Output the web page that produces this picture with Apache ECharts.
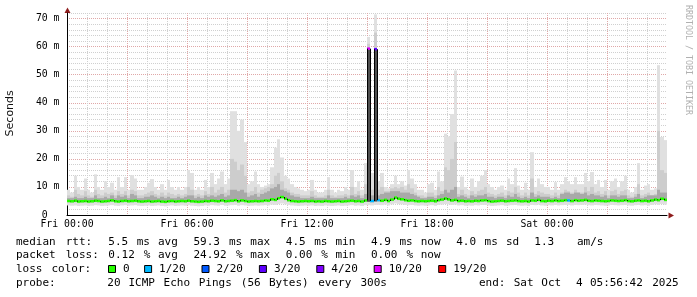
<!DOCTYPE html>
<html><head><meta charset="utf-8">
<script src="https://cdn.jsdelivr.net/npm/echarts@6/dist/echarts.min.js"></script>
<style>html,body{margin:0;padding:0;background:#fff}#c{width:697px;height:297px}</style>
</head><body><div id="c"></div>
<script>
// ---- data (10-minute bins, hours from Fri 00:00) ----
const BIN_H = 1 / 6;
const smokeMax = [
  9,8,14,10,9,13,9,8,14.5,10, 9,12,10,11.5,9,13.5,10,13.5,9,14.2, 13,9,9,10,11.5,12.8,10,9,11,9, 12.5,10,9,10,9,10,
  16,15,9,10,9,12.5,10,15,11,13, 15.5,11,13,37,37,30,34,26,11,12, 15.5,11,10,10.5,11,17,24,27,20.5,14, 13,11,10,9.5,9,8.5,
  9,12.5,9,8,8,9,13.5,9,8,9, 8.5,10,9,16,10,12,9,18.5,63.5,15, 71.5,12,15,10,9.5,11,14,11,12,10.5, 16,13,11,9,9,8,
  11,11.5,9,15.5,12,29,28,36,51.5,10, 13.7,10,9,13,10,12,14,16,11,10, 9,10,10.5,9,13,11,16.7,10.5,9,11.5, 9,22.4,10,13,11,10,
  10,9,11.7,9,11,13.5,12,11,13.5,11, 11,15,12,15.3,11,12.5,10,12.5,9,12, 13,10,12,14,9,8,10,18.5,9,10.5, 11,9,9.5,53.4,27.8,26.7
];
const smokeMid = [
  7,6.5,9,7.5,7,8.5,7,6.5,9,7.5, 7,8,7.5,8,7,8.5,7.5,8.5,7,9, 8.5,7,7,7.5,8,8.5,7.5,7,8,7, 8,7.5,7,7.5,7,7.5,
  10,9,7,7.5,7,8.5,7.5,10,8,9, 10,8,9,20,19,16,18,14,8,8.5, 10,8,9,9.5,10,11,14,15,12,9.5, 9,8,7.5,7.5,7,7,
  7,8.5,7,6.5,6.5,7,9,7,6.5,7, 7,7.5,7,10,7.5,8.5,7,11,61,9, 65,9,10,8.5,8.5,9.5,10,9.5,10,9, 11,9.5,8,7,7,6.5,
  8,8,7,10,8.5,17,16,20,26,7.5, 9,7.5,7,8.5,7.5,8.5,9,10,8,7.5, 7,7.5,8,7,8.5,8,10,8,7,8, 7,13,7.5,8.5,8,7.5,
  7.5,7,8,7,8,9,8.5,8,9,8, 8,10,8.5,10,8,8.5,7.5,8.5,7,8.5, 9,7.5,8.5,9,7,6.5,7.5,11,7,7.5, 8,7,7.5,30,16,15
];
const smokeDark = [
  6,6,6.5,6,6,6.5,6,6,7,6, 6,6.5,6,7,6,7,6.5,7,6,7.5, 7,6,6,6.5,6.5,7,6.5,6,6.5,6, 6.5,6,6,6.5,6,6.5,
  7,7,6,6.5,6,7,6.5,7,6.5,7, 7.5,6.5,7,9,9,8.5,9,8,6.5,7, 7.5,6.5,7.5,8,8.5,9.5,10,11,9,8.5, 8,7,6.5,6.5,6,6,
  6,6.5,6,6,6,6,7,6,6,6, 6,6.5,6,7,6.5,7,6,7.5,59,7, 59,7,7.5,8,8,8.5,8.5,8.5,8,8, 8,7.5,7,6.5,6,6,
  6.5,6.5,6,7,7.5,9,8,9,10,6.5, 7,6.5,6,7,6.5,7,7,7.5,6.5,6.5, 6,6.5,6.5,6,7,6.5,7.5,6.5,6,6.5, 6,8,6.5,7,6.5,6.5,
  6.5,6,6.5,6,7.5,8,8,7.5,8,8, 7.5,8,7,7.5,7,7,6.5,7,6,7, 7,6.5,7,7,6,6,6.5,7.5,6,6.5, 7,7,7,9,8,8
];
const smokeMin = [
  3.4,3.3,3.4,3.2,3.3,3.4,3.2,3.3,3.5,3.4, 3.2,3.3,3.4,3.5,3.3,3.2,3.4,3.5,3.3,3.4, 3.5,3.3,3.2,3.3,3.4,3.2,3.3,3.4,3.2,3.1, 3.3,3.4,3.2,3.3,3.4,3.3,
  3.5,3.3,3.2,3.1,3.2,3.4,3.3,3.5,3.4,3.3, 3.6,3.3,3.4,3.5,3.6,3.3,3.5,3.4,3.2,3.3, 3.4,3.3,3.4,3.5,3.4,3.7,3.6,3.9,4.1,3.8, 3.6,3.4,3.3,3.2,3.3,3.4,
  3.3,3.4,3.2,3.3,3.2,3.4,3.3,3.2,3.3,3.4, 3.2,3.3,3.4,3.5,3.3,3.4,3.2,3.5,3.5,3.4, 3.6,3.6,3.5,3.7,3.4,3.8,4.1,3.9,3.8,3.6, 3.5,3.6,3.4,3.3,3.4,3.3,
  3.4,3.5,3.3,3.6,3.7,3.9,3.8,3.6,3.7,3.4, 3.5,3.3,3.4,3.3,3.5,3.4,3.6,3.6,3.4,3.2, 3.3,3.4,3.5,3.3,3.4,3.5,3.6,3.4,3.3,3.4, 3.2,3.6,3.5,3.7,3.4,3.3,
  3.5,3.4,3.6,3.4,3.5,3.6,3.6,3.4,3.6,3.5, 3.6,3.7,3.5,3.4,3.6,3.5,3.4,3.3,3.4,3.6, 3.5,3.4,3.5,3.6,3.4,3.3,3.5,3.6,3.4,3.5, 3.3,3.6,3.8,3.6,3.9,3.7
];
const medianRtt = [
  5.0,4.9,5.1,4.8,4.9,5.0,4.8,4.9,5.1,5.0, 4.8,4.9,5.0,5.2,4.9,4.8,5.0,5.1,4.9,5.0, 5.1,4.9,4.8,4.9,5.0,4.8,4.9,5.0,4.8,4.7, 4.9,5.0,4.8,4.9,5.0,4.9,
  5.1,4.9,4.8,4.7,4.8,5.0,4.9,5.1,5.0,4.9, 5.2,4.9,5.0,5.1,5.3,4.9,5.2,5.0,4.8,4.9, 5.0,4.9,5.0,5.2,5.1,5.6,5.4,6.0,6.4,5.8, 5.3,5.0,4.9,4.8,4.9,5.0,
  4.9,5.0,4.8,4.9,4.8,5.0,4.9,4.8,4.9,5.0, 4.8,4.9,5.0,5.1,4.9,5.0,4.8,5.2,59.3,5.0, 59.1,5.3,5.1,5.4,5.0,5.5,6.2,5.8,5.6,5.3, 5.1,5.2,5.0,4.9,5.0,4.9,
  5.0,5.1,4.9,5.3,5.5,5.9,5.6,5.2,5.4,5.0, 5.1,4.9,5.0,4.9,5.1,5.0,5.2,5.3,5.0,4.8, 4.9,5.0,5.1,4.9,5.0,5.1,5.2,5.0,4.9,5.0, 4.8,5.2,5.1,5.4,5.0,4.9,
  5.1,5.0,5.2,5.0,5.1,5.3,5.2,5.0,5.3,5.1, 5.2,5.4,5.1,5.0,5.2,5.1,5.0,4.9,5.0,5.2, 5.1,5.0,5.1,5.3,5.0,4.9,5.1,5.2,5.0,5.1, 4.9,5.2,5.5,5.3,5.8,5.4
];
const lossLevels = ['0', '1/20', '2/20', '3/20', '4/20', '10/20', '19/20'];
const lossColors = ['#26ff00', '#00b8ff', '#0059ff', '#5e00ff', '#7e00ff', '#dd00ff', '#ff0000'];
const lossBins = [90, 91, 92, 93, 150];
const lossBinLevel = [5, 1, 3, 1, 1];
const xLabelHours = [0, 6, 12, 18, 24];
const xLabelTexts = ['Fri 00:00', 'Fri 06:00', 'Fri 12:00', 'Fri 18:00', 'Sat 00:00'];
const yLabelValues = [0, 10, 20, 30, 40, 50, 60, 70];
const yLabelTexts = ['0  ', '10 m', '20 m', '30 m', '40 m', '50 m', '60 m', '70 m'];
const statLine1 = 'median rtt:  5.5 ms avg  59.3 ms max  4.5 ms min  4.9 ms now  4.0 ms sd  1.3   am/s';
const statLine2 = 'packet loss: 0.12 % avg  24.92 % max  0.00 % min  0.00 % now';
const lossTitle = 'loss color:';
const probeLabel = 'probe:';
const probeText = '20 ICMP Echo Pings (56 Bytes) every 300s';
const endText = 'end: Sat Oct  4 05:56:42 2025';
const yTitle = 'Seconds';
const watermark = 'RRDTOOL / TOBI OETIKER';

// ---- build ----
const lossOf = i => { const k = lossBins.indexOf(i); return k >= 0 ? lossBinLevel[k] : 0; };
const smokeData = smokeMax.map((mx, i) => [i * BIN_H, (i + 1) * BIN_H, smokeMin[i], smokeDark[i], smokeMid[i], mx, medianRtt[i]]);
const medData = medianRtt.map((m, i) => [i * BIN_H, (i + 1) * BIN_H, m, lossOf(i)]);
const connData = medianRtt.slice(1).map((m, k) => [(k + 1) * BIN_H, medianRtt[k], m]);

const MAJ = '#e0a8a8', MIN = '#d0d0d0';
const MONO = '"DejaVu Sans Mono"';
const SMOKE = ['#e0e0e0', '#cdcdcd', '#a9a9a9'];

function renderSmoke(params, api) {
  const xa = Math.round(api.coord([api.value(0), 0])[0]);
  const xb = Math.round(api.coord([api.value(1), 0])[0]);
  const mn = api.value(2), dk = api.value(3), md = api.value(4), mx = api.value(5), med = api.value(6);
  const Y = v => api.coord([0, v])[1];
  const dLo = dk >= med ? med : mn + 1.2;
  const mLo = md >= med ? med - 0.6 : mn;
  const dColor = dk >= med ? SMOKE[2] : '#505050';
  const layers = [[mn, mx, SMOKE[0]], [mLo, md, SMOKE[1]], [dLo, dk, dColor]];
  return { type: 'group', children: layers.map(([lo, hi, c]) => ({
    type: 'rect', shape: { x: xa, y: Y(hi), width: xb - xa, height: Math.max(0, Y(lo) - Y(hi)) },
    style: { fill: c } })) };
}
function renderMedian(params, api) {
  const xa = Math.round(api.coord([api.value(0), 0])[0]);
  const xb = Math.round(api.coord([api.value(1), 0])[0]);
  const y = api.coord([0, api.value(2)])[1];
  return { type: 'line', shape: { x1: xa, y1: y, x2: xb, y2: y },
    style: { stroke: lossColors[api.value(3)], lineWidth: 2.5, lineCap: 'butt' } };
}
function renderConn(params, api) {
  const x = Math.round(api.coord([api.value(0), 0])[0]) + 0.5;
  const y1 = api.coord([0, api.value(1)])[1], y2 = api.coord([0, api.value(2)])[1];
  return { type: 'line', shape: { x1: x, y1: y1, x2: x, y2: y2 }, style: { stroke: '#000', lineWidth: 1 } };
}

const G = { left: 67, top: 13, right: 30, bottom: 82 };
const graphics = [];
function addTokens(line, x0, adv, y) {
  const re = /\S+/g; let m;
  while ((m = re.exec(line))) {
    graphics.push({ type: 'text', x: x0 + m.index * adv, y: y,
      style: { text: m[0], font: '11px ' + MONO, fill: '#000', align: 'left', verticalAlign: 'middle' } });
  }
}
addTokens(statLine1, 16, 7.1, 241.8);
addTokens(statLine2, 16, 7.1, 255.5);
addTokens(lossTitle, 16, 7.1, 269.6);
let sq = 108.5;
lossLevels.forEach((lab, i) => {
  graphics.push({ type: 'rect', shape: { x: sq, y: 265.5, width: 7, height: 7 },
    style: { fill: lossColors[i], stroke: '#000', lineWidth: 1 } });
  const tx = sq + 14.5;
  graphics.push({ type: 'text', x: tx, y: 269.6,
    style: { text: lab, font: '11px ' + MONO, fill: '#000', align: 'left', verticalAlign: 'middle' } });
  sq = tx + lab.length * 7.1 + 14.5;
});
addTokens(probeLabel, 16, 7.1, 283.6);
addTokens(probeText, 107.3, 7.03, 283.6);
addTokens(endText, 479, 6.93, 283.6);
graphics.push({ type: 'text', x: 10.5, y: 113.3, rotation: Math.PI / 2,
  style: { text: yTitle, font: '11px "DejaVu Sans"', fill: '#111', align: 'center', verticalAlign: 'middle' } });
graphics.push({ type: 'text', x: 688, y: 60, rotation: -Math.PI / 2,
  style: { text: watermark, font: '8.3px ' + MONO, fill: '#b0b0b0', align: 'center', verticalAlign: 'middle' } });
// axis arrows
const plotR = 697 - G.right, plotB = 297 - G.bottom;
graphics.push({ type: 'polygon', shape: { points: [[plotR + 7, plotB + 0.5], [plotR + 1.5, plotB - 2.5], [plotR + 1.5, plotB + 3.5]] },
  style: { fill: '#8e1c1c' } });
graphics.push({ type: 'polygon', shape: { points: [[G.left + 0.5, G.top - 5.5], [G.left - 2.5, G.top], [G.left + 3.5, G.top]] },
  style: { fill: '#8e1c1c' } });

const chart = echarts.init(document.getElementById('c'), null, { renderer: 'canvas' });
chart.setOption({
  animation: false,
  backgroundColor: '#fff',
  grid: G,
  xAxis: {
    type: 'value', min: 0, max: 30, interval: 1,
    axisLine: { show: true, onZero: false, lineStyle: { color: '#000', width: 1 } },
    axisTick: { show: false },
    splitLine: { show: true, showMaxLine: false, lineStyle: { color: [MAJ, MIN, MIN], type: [1, 1], width: 1 } },
    axisLabel: { margin: 4, fontFamily: 'DejaVu Sans Mono', fontSize: 9.8, color: '#000',
      formatter: v => { const k = xLabelHours.indexOf(v); return k >= 0 ? xLabelTexts[k] : ''; } }
  },
  yAxis: {
    type: 'value', min: 0, max: 72, interval: 2,
    axisLine: { show: true, lineStyle: { color: '#000', width: 1 } },
    axisTick: { show: false },
    splitLine: { show: true, lineStyle: { color: [MAJ, MIN, MIN, MIN, MIN], type: [1, 1], width: 1 } },
    axisLabel: { margin: 7.5, fontFamily: 'DejaVu Sans Mono', fontSize: 9.8, color: '#000',
      formatter: v => { const k = yLabelValues.indexOf(v); return k >= 0 ? yLabelTexts[k] : ''; } }
  },
  series: [
    { type: 'custom', name: 'smoke', renderItem: renderSmoke, data: smokeData, z: 2, clip: true,
      encode: { x: [0, 1], y: [2, 5] }, silent: true },
    { type: 'custom', name: 'median', renderItem: renderMedian, data: medData, z: 3, clip: true,
      encode: { x: [0, 1], y: 2 }, silent: true },
    { type: 'custom', name: 'steps', renderItem: renderConn, data: connData, z: 4, clip: true,
      encode: { x: 0, y: [1, 2] }, silent: true }
  ],
  graphic: graphics
});
</script>
</body></html>
